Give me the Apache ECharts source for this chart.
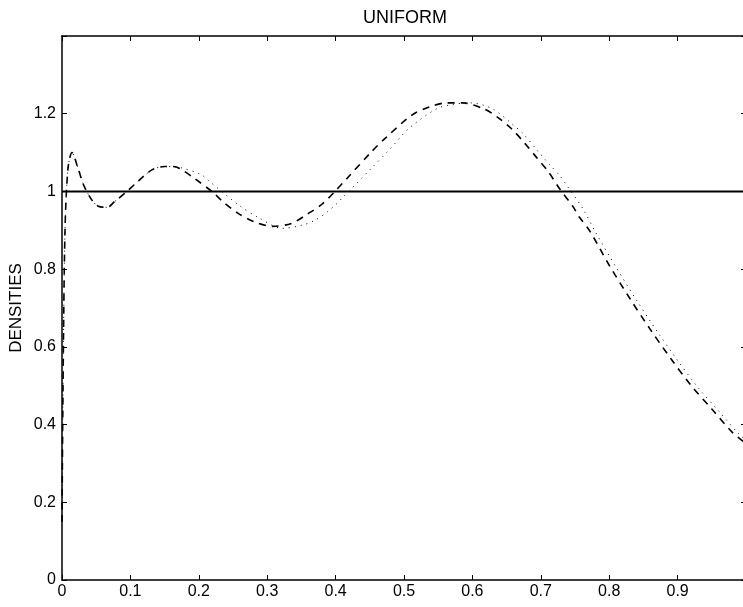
<!DOCTYPE html>
<html>
<head>
<meta charset="utf-8">
<script src="https://cdn.jsdelivr.net/npm/echarts@6/dist/echarts.min.js"></script>
<style>
html, body { margin: 0; padding: 0; background: #fff; }
#chart { width: 743px; height: 607px; }
</style>
</head>
<body>
<div id="chart"></div>
<script>
// uniform density (solid)
var trueX = [0, 1];
var trueY = [1, 1];

// estimate 1 (dashed)
var dashX = [0, 0.0015, 0.0044, 0.0088, 0.0146, 0.0234, 0.032, 0.044, 0.053, 0.066, 0.077, 0.095, 0.111, 0.132, 0.15, 0.162, 0.172,
    0.194, 0.219, 0.235, 0.257, 0.282, 0.308, 0.336, 0.358, 0.380, 0.399, 0.418, 0.453, 0.472, 0.512, 0.538, 0.563,
    0.586, 0.616, 0.636, 0.658, 0.677, 0.694, 0.711, 0.727, 0.747, 0.756, 0.772, 0.80, 0.83, 0.86, 0.89, 0.92, 0.95, 0.98, 1.0];
var dashY = [0.15, 0.5, 0.9, 1.06, 1.10, 1.06, 1.015, 0.977, 0.962, 0.959, 0.974, 1.0, 1.026, 1.056, 1.064, 1.064, 1.059,
    1.033, 1.0, 0.974, 0.944, 0.921, 0.910, 0.918, 0.941, 0.967, 1.0, 1.036, 1.103, 1.136, 1.197, 1.218, 1.228,
    1.228, 1.213, 1.192, 1.160, 1.123, 1.087, 1.051, 1.008, 0.961, 0.935, 0.897, 0.81, 0.725, 0.645, 0.57, 0.50, 0.44, 0.38, 0.351];

// estimate 2 (dotted)
var dotX = [0, 0.0015, 0.0044, 0.0088, 0.0146, 0.0234, 0.032, 0.044, 0.053, 0.066, 0.077, 0.095, 0.111, 0.132, 0.15, 0.162, 0.172,
    0.203, 0.212, 0.259, 0.287, 0.322, 0.351, 0.370, 0.387, 0.402, 0.409, 0.452, 0.480, 0.507, 0.548, 0.569,
    0.596, 0.629, 0.659, 0.674, 0.696, 0.713, 0.728, 0.737, 0.762, 0.78, 0.81, 0.84, 0.87, 0.90, 0.93, 0.96, 0.99, 1.0];
var dotY = [0.15, 0.5, 0.9, 1.06, 1.10, 1.06, 1.015, 0.977, 0.962, 0.959, 0.974, 1.0, 1.026, 1.056, 1.064, 1.064, 1.062,
    1.044, 1.031, 0.964, 0.933, 0.905, 0.913, 0.926, 0.946, 0.969, 0.982, 1.059, 1.110, 1.162, 1.213, 1.223,
    1.228, 1.213, 1.172, 1.149, 1.103, 1.069, 1.040, 1.018, 0.954, 0.895, 0.805, 0.72, 0.64, 0.565, 0.495, 0.435, 0.375, 0.36];

function pairs(xs, ys) {
    return xs.map(function (x, i) { return [x, ys[i]]; });
}

var fontFam = '"Liberation Sans", Arial, sans-serif';
function tick() {
    return { show: true, inside: true, length: 5, lineStyle: { color: '#000', width: 1 } };
}
function axLine() {
    return { show: true, onZero: false, lineStyle: { color: '#000', width: 1.5 } };
}

var dom = document.getElementById('chart');
var myChart = echarts.init(dom);
myChart.setOption({
    animation: false,
    title: {
        text: 'UNIFORM',
        left: 400,
        top: 4,
        textAlign: 'center',
        textStyle: { fontFamily: fontFam, fontSize: 18, fontWeight: 'normal', color: '#000' }
    },
    grid: { left: 62, top: 36, right: -3, bottom: 27, outerBoundsMode: 'none', containLabel: false },
    xAxis: [
        {
            type: 'value', min: 0, max: 1, interval: 0.1,
            axisLine: axLine(), axisTick: tick(), splitLine: { show: false },
            axisLabel: {
                color: '#000', fontFamily: fontFam, fontSize: 16, margin: 4,
                formatter: function (v) { return v >= 1 ? '' : String(+v.toFixed(1)); }
            }
        },
        {
            type: 'value', position: 'top', min: 0, max: 1, interval: 0.1,
            axisLine: axLine(), axisTick: tick(), splitLine: { show: false },
            axisLabel: { show: false }
        }
    ],
    yAxis: [
        {
            type: 'value', min: 0, max: 1.4, interval: 0.2,
            name: 'DENSITIES', nameLocation: 'middle', nameGap: 37, nameRotate: 90,
            nameMoveOverlap: false,
            nameTextStyle: { color: '#000', fontFamily: fontFam, fontSize: 17 },
            axisLine: axLine(), axisTick: tick(), splitLine: { show: false },
            axisLabel: {
                color: '#000', fontFamily: fontFam, fontSize: 16, margin: 6,
                formatter: function (v) { return v > 1.3 ? '' : String(+v.toFixed(1)); }
            }
        },
        {
            type: 'value', position: 'right', min: 0, max: 1.4, interval: 0.2,
            axisLine: axLine(), axisTick: tick(), splitLine: { show: false },
            axisLabel: { show: false }
        }
    ],
    series: [
        {
            type: 'line', data: pairs(trueX, trueY), showSymbol: false,
            lineStyle: { color: '#000', width: 2 }
        },
        {
            type: 'line', data: pairs(dotX, dotY), showSymbol: false,
            smooth: 0.3,
            lineStyle: { color: '#000', width: 1, type: [1, 5] }
        },
        {
            type: 'line', data: pairs(dashX, dashY), showSymbol: false,
            smooth: 0.3,
            lineStyle: { color: '#000', width: 1.6, type: [7, 6] }
        }
    ]
});
</script>
</body>
</html>
